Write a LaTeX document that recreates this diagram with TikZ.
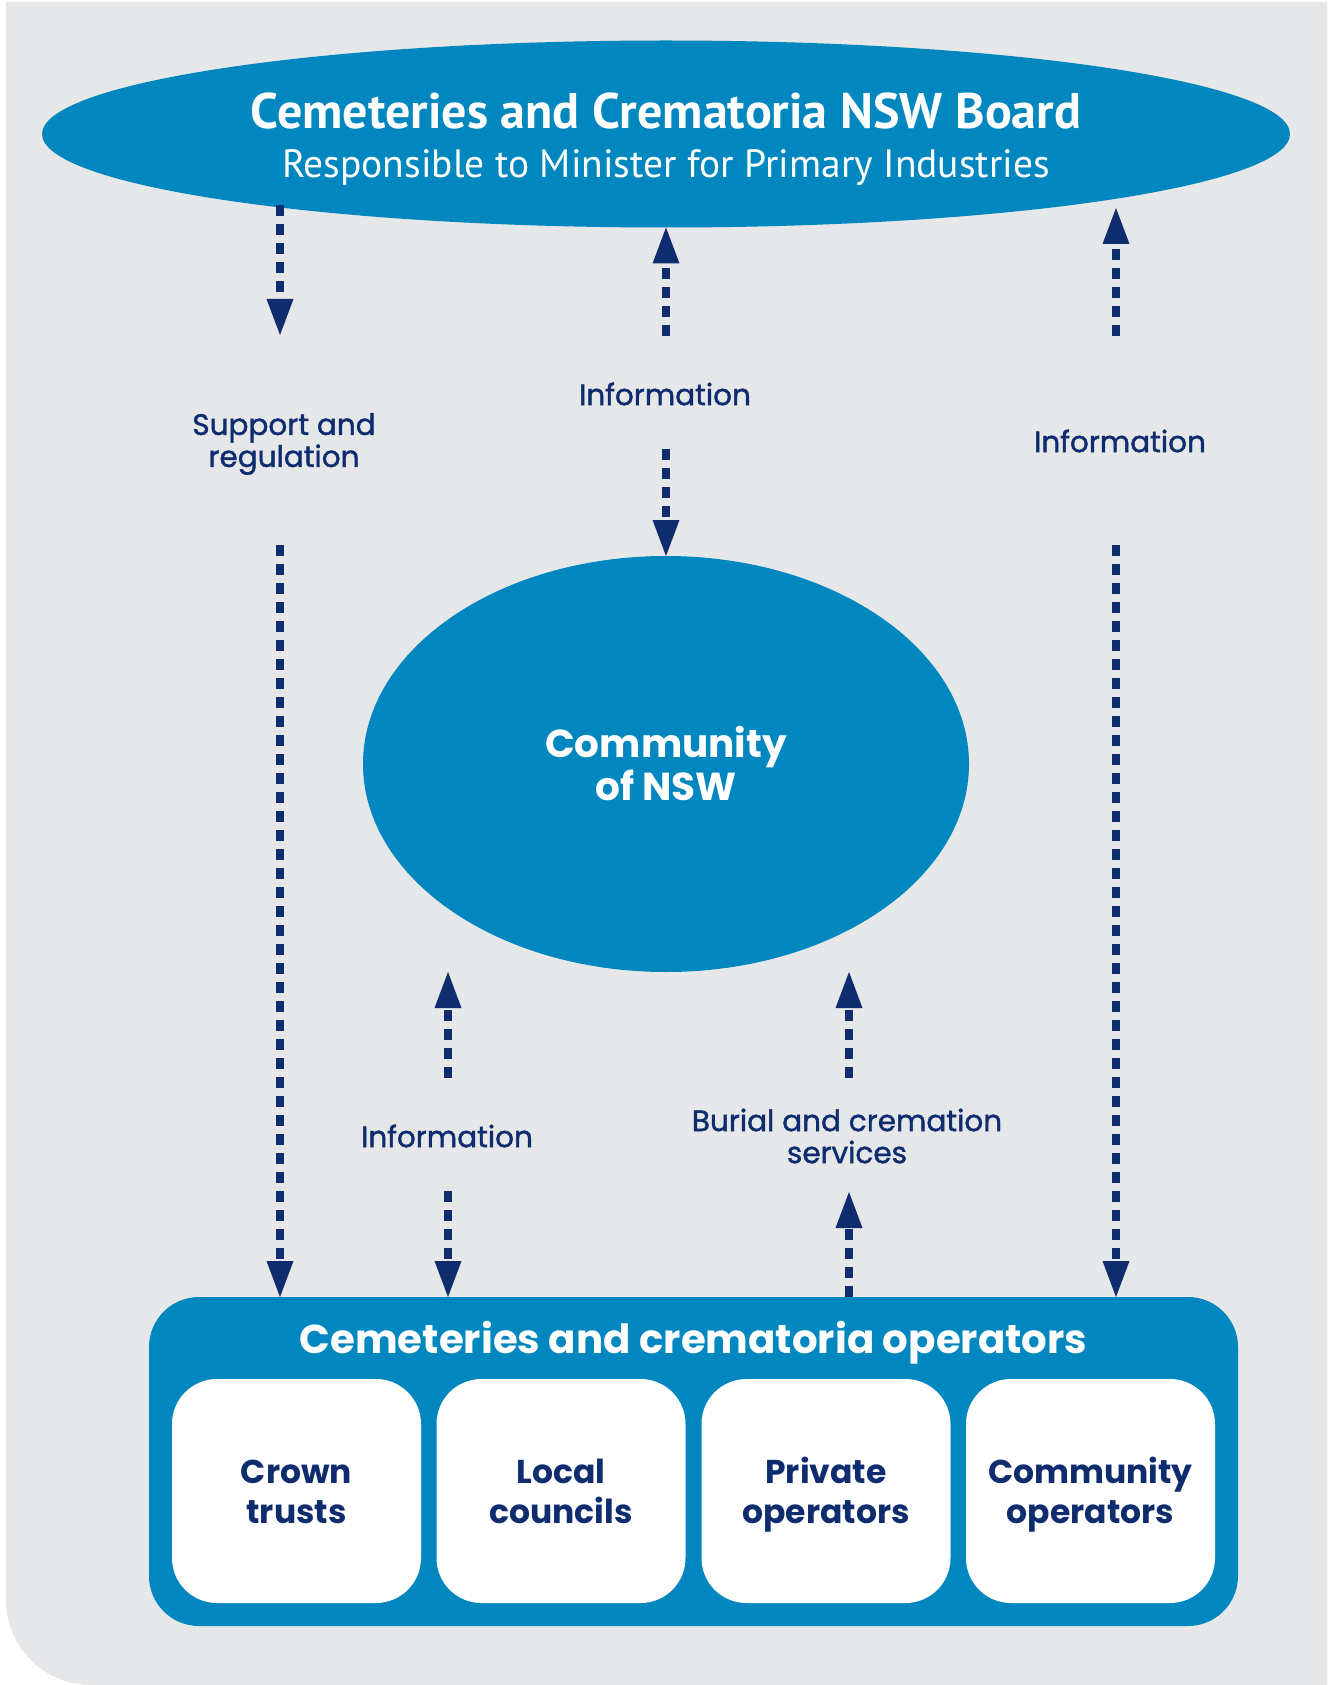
\documentclass[tikz,border=0pt]{standalone}
\usepackage{fontspec}
\setmainfont{Poppins}
\newfontfamily\myr{PT Sans}
\newfontfamily\pmed{Poppins}[FakeBold=1.4]
\usetikzlibrary{arrows.meta,shapes.geometric,backgrounds}
\definecolor{cblue}{HTML}{0087BF}
\definecolor{cnavy}{HTML}{0F2D6E}
\definecolor{cgray}{HTML}{E6E7E9}
\newcommand\dropstack[2][4.5pt]{\raisebox{-#1}[\height][\depth]{\begin{tabular}{@{}c@{}}#2\end{tabular}}}
\begin{document}
\begin{tikzpicture}[x=1pt,y=-1pt,
  arr/.style={draw=cnavy, line width=8pt, dash pattern=on 11pt off 8pt,
    -{Triangle[width=27pt,length=36pt,line width=0pt]}},
  blob/.style={ellipse, fill=cblue, inner sep=0pt, outer sep=0pt, text=white, align=center},
  lab/.style={text=cnavy, align=center, inner sep=0pt, font=\pmed\fontsize{29.5}{32}\selectfont},
  opbox/.style={fill=white, rounded corners=45pt, minimum width=249pt, minimum height=224pt,
    inner sep=0pt, text=cnavy, font=\bfseries\fontsize{33}{40}\selectfont}]
\useasboundingbox (0,0) rectangle (1327,1685);
\begin{scope}[on background layer]
\fill[cgray] (6,2) -- (1327,2) -- (1327,1685) -- (91,1685)
  .. controls (44,1685) and (6,1647) .. (6,1600) -- cycle;
\end{scope}
% top board
\node[blob, minimum width=1248pt, minimum height=187pt, font=\myr\fontsize{39.5}{49}\selectfont]
  (board) at (666,134)
  {\dropstack[8.5pt]{{\bfseries\fontsize{50}{49}\selectfont Cemeteries and Crematoria NSW Board}\\
   Responsible to Minister for Primary Industries}};
% community
\node[blob, minimum width=606pt, minimum height=416pt,
  font=\bfseries\fontsize{39}{43}\selectfont] (community) at (666,764) {Community\\of NSW};
% operators
\node[fill=cblue, rounded corners=50pt, minimum width=1089pt, minimum height=329pt,
  inner sep=0pt, outer sep=0pt] (ops) at (693.5,1461.5) {};
\node[text=white, font=\bfseries\fontsize{40.3}{44}\selectfont] (opstitle) at (693.5,1343)
  {Cemeteries and crematoria operators};
\node[opbox] (crown) at (296.5,1491) {\dropstack{Crown\\trusts}};
\node[opbox] (local) at (561,1491) {\dropstack{Local\\councils}};
\node[opbox] (private) at (826,1491) {\dropstack{Private\\operators}};
\node[opbox] (commop) at (1090.5,1491) {\dropstack{Community\\operators}};
% labels
\node[lab] (support) at (284,444) {Support and\\regulation};
\node[lab] (infotop) at (665,394) {Information};
\node[lab] (inforight) at (1120,441) {Information};
\node[lab] (infobot) at (447,1136) {Information};
\node[lab] (burial) at (847,1136) {Burial and cremation\\services};
% coordinates
\coordinate (tA) at (280,335);
\coordinate (sB) at (280,545);
\coordinate (sC) at (666,336);
\coordinate (sD) at (666,449);
\coordinate (sE) at (1116,336);
\coordinate (tE) at (1116,208);
\coordinate (sF) at (1116,545);
\coordinate (sG) at (448,1078);
\coordinate (tG) at (448,972);
\coordinate (sH) at (448,1191);
\coordinate (sI) at (849,1078);
\coordinate (tI) at (849,972);
\coordinate (sJ) at (849,1297);
\coordinate (tJ) at (849,1192);
% arrows
\draw[arr] (board.190.8 -| tA) -- (tA);
\draw[arr] (sB) -- (ops.north -| sB);
\draw[arr] (sC) -- (board.south);
\draw[arr] (sD) -- (community.north);
\draw[arr] (sE) -- (tE);
\draw[arr] (sF) -- (ops.north -| sF);
\draw[arr] (sG) -- (tG);
\draw[arr] (sH) -- (ops.north -| sH);
\draw[arr] (sI) -- (tI);
\draw[arr] (ops.north -| sJ) -- (tJ);
\end{tikzpicture}
\end{document}
